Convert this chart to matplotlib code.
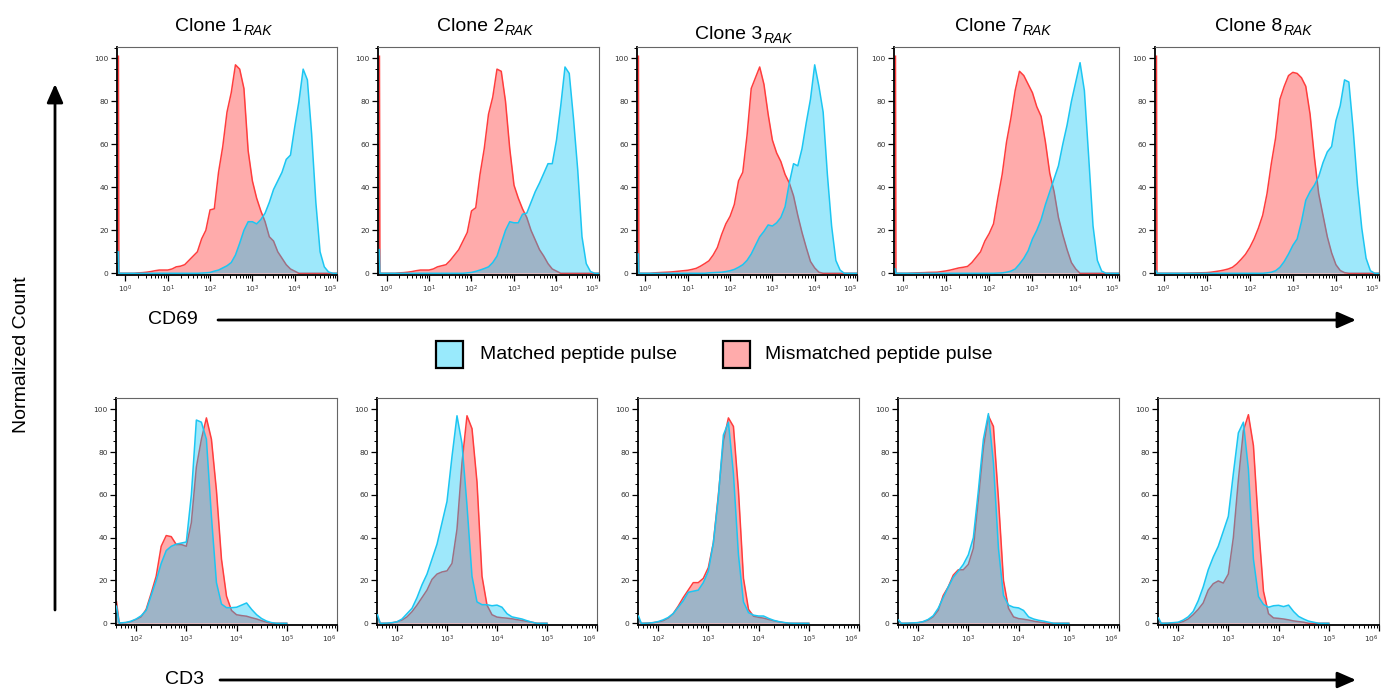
import numpy as np
import matplotlib
matplotlib.use("Agg")
import matplotlib.pyplot as plt
from matplotlib.patches import Rectangle, FancyArrowPatch, ArrowStyle
from matplotlib.ticker import FixedLocator, MultipleLocator, NullFormatter, LogLocator

plt.rcParams['font.family'] = ['Liberation Sans', 'DejaVu Sans']

# ---------------- data ----------------
clones = ["1", "2", "3", "7", "8"]
subscript = "RAK"
legend_labels = ["Matched peptide pulse", "Mismatched peptide pulse"]
top_marker = "CD69"
bottom_marker = "CD3"
ylabel_text = "Normalized Count"

# CD69 (top row): log10 intensity grid
cd69_exp = [0.0, 0.1, 0.2, 0.3, 0.4, 0.5, 0.6, 0.7, 0.8, 0.9,
            1.0, 1.1, 1.2, 1.3, 1.4, 1.5, 1.6, 1.7, 1.8, 1.9,
            2.0, 2.1, 2.2, 2.3, 2.4, 2.5, 2.6, 2.7, 2.8, 2.9,
            3.0, 3.1, 3.2, 3.3, 3.4, 3.5, 3.6, 3.7, 3.8, 3.9,
            4.0, 4.1, 4.2, 4.3, 4.4, 4.5, 4.6, 4.7, 4.8, 4.9, 5.0]

cd69_mis_1 = [0, 0, 0, 0.2, 0.3, 0.5, 0.8, 1.2, 1.5, 1.5,
              1.5, 2, 3, 3.3, 4, 6, 8, 10, 16, 20,
              29.5, 30, 47, 59, 75, 84, 97, 95, 86, 57,
              43, 35, 29, 24, 17, 15, 10, 7, 4, 2,
              1, 0, 0, 0, 0, 0, 0, 0, 0, 0, 0]
cd69_mat_1 = [0, 0, 0, 0, 0, 0, 0, 0, 0, 0,
              0, 0, 0, 0, 0, 0, 0, 0, 0.1, 0.2,
              0.4, 1, 1.5, 2.5, 3.5, 5, 8.5, 14, 20, 24,
              24, 23, 25, 28, 33, 39, 43, 47, 53, 55,
              68, 80, 95, 90, 65, 33, 10, 3, 0.6, 0, 0]

cd69_mis_2 = [0, 0, 0, 0.2, 0.3, 0.5, 0.8, 1.2, 1.5, 1.5,
              1.5, 2, 3, 3.5, 4, 6, 8.5, 11, 15, 19,
              29, 30.5, 46, 58, 74, 82, 95, 94, 80, 58,
              41, 35, 30, 26, 20, 15.5, 11, 8, 4.5, 2,
              1, 0, 0, 0, 0, 0, 0, 0, 0, 0, 0]
cd69_mat_2 = [0, 0, 0, 0, 0, 0, 0, 0, 0, 0,
              0, 0, 0, 0, 0, 0, 0, 0, 0, 0.2,
              0.4, 0.9, 1.5, 2.2, 3, 5, 8, 14, 20, 24,
              23.5, 23.5, 27.5, 28, 33, 38, 42, 46.5, 51, 51,
              62, 78, 96, 93, 72, 48, 17, 4.5, 0.8, 0, 0]

cd69_mis_3 = [0, 0, 0.2, 0.3, 0.4, 0.5, 0.6, 0.8, 1, 1.2,
              1.4, 1.8, 2.3, 3.3, 4.5, 5.8, 8.5, 12, 18, 23,
              26.5, 32, 43, 47, 64, 86, 91, 96, 88, 74,
              62, 56, 52, 46, 42, 36, 27, 19, 12, 5.5,
              2.5, 0.5, 0, 0, 0, 0, 0, 0, 0, 0, 0]
cd69_mat_3 = [0, 0, 0, 0, 0, 0, 0, 0, 0, 0,
              0, 0, 0, 0, 0, 0.2, 0.3, 0.4, 0.5, 0.8,
              1.2, 1.8, 2.8, 4, 6, 9, 13, 17, 19.5, 22.5,
              22, 23.5, 26, 31, 42, 51, 50, 58, 70, 81,
              97, 87, 75, 46, 22, 6, 1.5, 0, 0, 0, 0]

cd69_mis_7 = [0, 0, 0.1, 0.2, 0.25, 0.3, 0.4, 0.45, 0.5, 0.8,
              1.1, 1.5, 2, 2.5, 2.8, 3.2, 5, 7.5, 10, 15,
              18.5, 23, 35, 46, 61, 72, 85, 94, 92, 88,
              84, 77.5, 73, 61, 46.5, 38, 26, 18, 11, 5,
              2, 0, 0, 0, 0, 0, 0, 0, 0, 0, 0]
cd69_mat_7 = [0, 0, 0, 0, 0, 0, 0, 0, 0, 0,
              0, 0, 0, 0, 0, 0, 0, 0, 0, 0,
              0, 0, 0.1, 0.2, 0.5, 1, 2, 4.3, 7, 10.5,
              16, 20, 25, 32, 38, 44, 50, 60, 69, 80,
              89, 98, 85, 54, 22, 6, 1, 0, 0, 0, 0]

cd69_mis_8 = [0, 0, 0, 0, 0, 0, 0.1, 0.15, 0.2, 0.25,
              0.3, 0.5, 0.8, 1.1, 1.5, 2, 2.8, 4.4, 6.5, 8.8,
              12, 16, 21, 27, 37, 51, 63, 81, 87, 92,
              93.5, 93, 91, 87, 74, 54, 37, 27, 17, 9.5,
              4, 1.3, 0.3, 0, 0, 0, 0, 0, 0, 0, 0]
cd69_mat_8 = [0, 0, 0, 0, 0, 0, 0, 0, 0, 0,
              0, 0, 0, 0, 0, 0, 0, 0, 0, 0,
              0, 0, 0, 0, 0.2, 0.5, 1.2, 2.8, 5.5, 9,
              13, 16, 24, 34, 38, 41, 45, 51.5, 56.5, 59,
              71, 78, 90, 89, 67, 41, 21, 7, 1.2, 0, 0]

# counts piled at the lower axis limit (off-scale events)
cd69_edge_mis = [101, 101, 101, 101, 101]
cd69_edge_mat = [10, 11, 9, 2, 1]

# CD3 (bottom row): log10 intensity grid
cd3_exp = [1.7, 1.8, 1.9, 2.0, 2.1, 2.2, 2.3, 2.4, 2.5, 2.6,
           2.7, 2.8, 2.9, 3.0, 3.1, 3.2, 3.3, 3.4, 3.5, 3.6,
           3.7, 3.8, 3.9, 4.0, 4.1, 4.2, 4.3, 4.4, 4.5, 4.6,
           4.7, 4.8, 4.9, 5.0]

cd3_mis_1 = [0.2, 0.3, 0.8, 1.8, 3, 6.5, 14, 22, 36, 41,
             40.5, 36.8, 36.8, 36, 47, 73, 86, 96, 86, 62,
             30, 12.7, 6, 4, 3.6, 3.3, 2.6, 2, 1.2, 0.5,
             0, 0, 0, 0]
cd3_mat_1 = [0.2, 0.4, 1, 2, 3.5, 6, 13, 20, 28, 34,
             36, 37, 37.5, 38, 60, 95, 94, 86, 50, 19,
             9, 7.3, 7.3, 7.5, 8.5, 9.5, 6.5, 4, 2.2, 1,
             0.3, 0, 0, 0]

cd3_mis_2 = [0, 0, 0.2, 0.7, 1.5, 3, 5.4, 8.5, 12, 15.5,
             20.5, 23, 24, 24.5, 28, 44, 75, 97, 91, 66,
             22, 8.5, 4, 2.9, 2.6, 2.4, 2.1, 1.7, 1.3, 0.9,
             0.5, 0, 0, 0]
cd3_mat_2 = [0, 0.1, 0.3, 0.7, 2, 4.5, 7, 12, 18, 23,
             30, 37, 47, 57, 78, 97, 84, 55, 22, 10,
             8.7, 8.7, 8.2, 8.5, 7.5, 4.5, 3, 2.5, 2, 1.2,
             0.5, 0, 0, 0]

cd3_mis_3 = [0, 0.1, 0.3, 0.6, 1.2, 2.4, 4.5, 8, 12, 15.5,
             19, 19, 21, 26, 37.6, 60, 85, 96, 92, 62,
             21, 6.5, 3.3, 2.8, 2.4, 1.8, 1.2, 0.7, 0.3, 0,
             0, 0, 0, 0]
cd3_mat_3 = [0, 0.1, 0.3, 0.8, 1.6, 2.7, 4.5, 7.5, 10.5, 14.5,
             15, 15.5, 19, 24.4, 37.6, 59, 88, 94, 70, 32,
             10, 5, 3.8, 3.4, 3.4, 2.3, 1.4, 0.8, 0.4, 0.1,
             0, 0, 0, 0]

cd3_mis_7 = [0, 0, 0.1, 0.3, 0.7, 1.5, 3, 6, 13, 17,
             22.5, 25, 25, 27.5, 35, 58, 82, 97, 92, 58,
             20, 7, 3, 2.2, 1.9, 1.5, 1.0, 0.6, 0.3, 0,
             0, 0, 0, 0]
cd3_mat_7 = [0, 0.1, 0.2, 0.3, 0.8, 1.8, 3.5, 7, 12, 17,
             21.5, 24.4, 27.5, 32, 40, 62, 86, 98, 75, 35,
             13, 8.5, 7.5, 7.2, 6, 3, 2, 1.4, 1, 0.5,
             0, 0, 0, 0]

cd3_mis_8 = [0, 0, 0.1, 0.2, 0.8, 2, 4, 6.5, 9.5, 15.5,
             18.5, 19.8, 18.8, 23, 40, 67, 90, 97.5, 83, 46,
             15, 4.5, 2.5, 2.3, 2, 1.6, 1.1, 0.8, 0.5, 0,
             0, 0, 0, 0]
cd3_mat_8 = [0, 0.1, 0.3, 0.5, 1.5, 3, 5.5, 10.5, 17, 25,
             31, 36, 43, 50, 70, 89, 94, 72, 30, 12.5,
             8.8, 7.5, 8.2, 8.4, 7.8, 8.5, 5.5, 3.2, 2, 1,
             0.5, 0, 0, 0]

cd3_edge_mis = [10, 3, 2, 1, 1]
cd3_edge_mat = [8, 4, 3.4, 1.5, 2.5]

cd69_mis = [cd69_mis_1, cd69_mis_2, cd69_mis_3, cd69_mis_7, cd69_mis_8]
cd69_mat = [cd69_mat_1, cd69_mat_2, cd69_mat_3, cd69_mat_7, cd69_mat_8]
cd3_mis = [cd3_mis_1, cd3_mis_2, cd3_mis_3, cd3_mis_7, cd3_mis_8]
cd3_mat = [cd3_mat_1, cd3_mat_2, cd3_mat_3, cd3_mat_7, cd3_mat_8]

# ---------------- style ----------------
MIS_FILL = "#FFABAB"
MIS_LINE = "#FF3D3D"
MAT_FILL = (0.0, 0.77, 0.97)
MAT_ALPHA = 0.38
MAT_LINE = "#1CC6F2"
LEG_MAT = "#99EAFC"
LEG_MIS = "#FFABAB"

W, H = 1382, 692
fig = plt.figure(figsize=(W / 100, H / 100), dpi=100)


def fx(x):
    return x / W


def fy(y):
    return 1 - y / H


top_lefts = [117, 378, 637, 894, 1155]
top_rights = [337, 599, 857, 1119, 1379]
top_y = (47, 275)
bot_lefts = [116, 377, 638, 898, 1158]
bot_rights = [337, 597, 859, 1119, 1379]
bot_y = (398, 625)


def style_axes(ax):
    for s in ["left", "bottom"]:
        ax.spines[s].set_color("black")
        ax.spines[s].set_linewidth(1.3)
    for s in ["top", "right"]:
        ax.spines[s].set_color("#666666")
        ax.spines[s].set_linewidth(0.8)
    ax.set_ylim(-0.8, 105.3)
    ax.yaxis.set_major_locator(FixedLocator([0, 20, 40, 60, 80, 100]))
    ax.yaxis.set_minor_locator(MultipleLocator(5))
    ax.tick_params(axis="both", which="major", direction="out", length=4,
                   width=0.9, pad=2, labelsize=5.4, labelcolor="#333333")
    ax.tick_params(axis="both", which="minor", direction="out", length=2.5,
                   width=0.7)
    for lab in ax.get_yticklabels():
        lab.set_family("DejaVu Sans")
    xl = ax.get_xticklabels()
    xl[-1].set_horizontalalignment("right")


def draw(ax, xs, mis, mat):
    ax.fill_between(xs, 0, mis, color=MIS_FILL, lw=0, zorder=1)
    ax.plot(xs, mis, color=MIS_LINE, lw=1.1, zorder=2)
    ax.fill_between(xs, 0, mat, facecolor=MAT_FILL, alpha=MAT_ALPHA, lw=0, zorder=3)
    ax.plot(xs, mat, color=MAT_LINE, lw=1.1, zorder=4)


top_x = np.concatenate([[0.17, 0.22], 10 ** np.array(cd69_exp)])
bot_x = np.concatenate([[10 ** 1.61, 10 ** 1.665], 10 ** np.array(cd3_exp)])

for i in range(5):
    # top row
    l, r = top_lefts[i], top_rights[i]
    ax = fig.add_axes([fx(l), fy(top_y[1]), (r - l) / W, (top_y[1] - top_y[0]) / H])
    draw(ax, top_x,
         [cd69_edge_mis[i], 0] + cd69_mis[i],
         [cd69_edge_mat[i], 0] + cd69_mat[i])
    ax.set_xscale("symlog", linthresh=1, linscale=0.18, base=10)
    ax.set_xlim(0, 1e5)
    ax.xaxis.set_major_locator(FixedLocator([1, 10, 100, 1e3, 1e4, 1e5]))
    ax.set_xticklabels([r"$10^{%d}$" % k for k in range(6)])
    ax.xaxis.set_minor_locator(FixedLocator([k * 10 ** d for d in range(5) for k in range(2, 10)]))
    ax.xaxis.set_minor_formatter(NullFormatter())
    style_axes(ax)

    # bottom row
    l, r = bot_lefts[i], bot_rights[i]
    ax = fig.add_axes([fx(l), fy(bot_y[1]), (r - l) / W, (bot_y[1] - bot_y[0]) / H])
    draw(ax, bot_x,
         [cd3_edge_mis[i], 0] + cd3_mis[i],
         [cd3_edge_mat[i], 0] + cd3_mat[i])
    ax.set_xscale("log")
    ax.set_xlim(10 ** 1.6, 1e6)
    ax.xaxis.set_major_locator(FixedLocator([1e2, 1e3, 1e4, 1e5, 1e6]))
    ax.set_xticklabels([r"$10^{%d}$" % k for k in range(2, 7)])
    ax.xaxis.set_minor_locator(LogLocator(base=10, subs=np.arange(2, 10), numticks=30))
    ax.xaxis.set_minor_formatter(NullFormatter())
    style_axes(ax)

# ---------------- titles ----------------
renderer = fig.canvas.get_renderer()
title_baselines = [31, 31, 39, 31, 31]
for i, c in enumerate(clones):
    cx = (top_lefts[i] + top_rights[i]) / 2
    t1 = fig.text(0, 0, "Clone " + c, fontsize=14, ha="left", va="baseline")
    t2 = fig.text(0, 0, subscript, fontsize=10, style="italic", ha="left", va="baseline")
    w1 = t1.get_window_extent(renderer).width
    w2 = t2.get_window_extent(renderer).width
    x0 = cx - (w1 + w2) / 2 - 4
    t1.set_position((fx(x0), fy(title_baselines[i])))
    t2.set_position((fx(x0 + w1 + 1), fy(title_baselines[i] + 4)))

# ---------------- axis labels / arrows ----------------
fig.text(fx(22), fy(355), ylabel_text, rotation=90, fontsize=14, ha="center", va="center")
fig.text(fx(148), fy(320), top_marker, fontsize=14, ha="left", va="center")
fig.text(fx(165), fy(680), bottom_marker, fontsize=14, ha="left", va="center")

astyle = ArrowStyle("-|>", head_length=0.8, head_width=0.35)
for (xa, ya, xb, yb) in [(55, 610, 55, 84), (218, 320, 1356, 320), (220, 680, 1356, 680)]:
    arr = FancyArrowPatch((fx(xa), fy(ya)), (fx(xb), fy(yb)), transform=fig.transFigure,
                          arrowstyle=astyle, mutation_scale=14, lw=2, color="black",
                          shrinkA=0, shrinkB=0)
    fig.add_artist(arr)

# ---------------- legend ----------------
leg_items = [(436, LEG_MAT, 480, legend_labels[0]), (723, LEG_MIS, 765, legend_labels[1])]
for (px0, col, tx, lab) in leg_items:
    rect = Rectangle((fx(px0), fy(368)), 27 / W, 27 / H, transform=fig.transFigure,
                     facecolor=col, edgecolor="black", lw=1.6)
    fig.add_artist(rect)
    fig.text(fx(tx), fy(355), lab, fontsize=14, ha="left", va="center")

fig.savefig("out.png", dpi=100)
